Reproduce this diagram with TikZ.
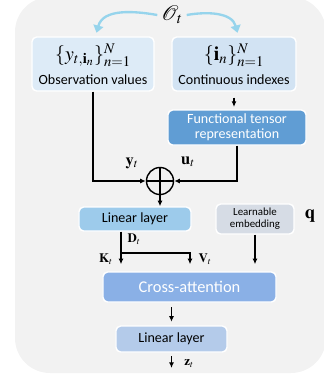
\documentclass[tikz,border=0pt]{standalone}
\usepackage{amsmath,amssymb}
\usepackage{mathptmx}
\usepackage{fontspec}
\setmainfont{Carlito}
\usetikzlibrary{arrows.meta}

\definecolor{bgGray}{RGB}{242,242,242}
\definecolor{obsBlue}{RGB}{221,235,247}
\definecolor{idxBlue}{RGB}{210,227,243}
\definecolor{funcBlue}{RGB}{96,157,212}
\definecolor{linBlue}{RGB}{157,203,235}
\definecolor{embGray}{RGB}{214,220,229}
\definecolor{crossBlue}{RGB}{138,176,230}
\definecolor{linTwoBlue}{RGB}{180,203,234}
\definecolor{arcCyan}{RGB}{150,212,236}

\newcommand{\fsz}[1]{\fontsize{#1}{#1}\selectfont}

\begin{document}
\begin{tikzpicture}[x=0.03cm, y=-0.03cm, >={Latex[length=1.7mm, width=1.5mm]},
	every node/.style={font=\fsz{12}},
	box/.style={draw=white, line width=1.2pt, rounded corners=4pt, inner sep=0pt, align=center},
	flow/.style={->, line width=1.2pt},
	arc/.style={-{Triangle[length=2.2mm, width=3mm]}, arcCyan, line width=2pt}]
	\useasboundingbox (0,0) rectangle (323,381);
	\fill[bgGray, rounded corners=1.05cm] (15,-3) rectangle (326,373);

	\node[box, fill=obsBlue, minimum width=3.66cm, minimum height=1.62cm] (obs) at (93,64)
		{{\fsz{17}$\{y_{t,\mathbf{i}_n}\}_{n=1}^{N}$}\\[6pt] Observation values};
	\node[box, fill=idxBlue, minimum width=3.72cm, minimum height=1.62cm] (idx) at (234,64)
		{{\fsz{17}$\{\mathbf{i}_n\}_{n=1}^{N}$}\\[6pt] Continuous indexes};
	\node[box, fill=funcBlue, text=white, minimum width=4.14cm, minimum height=1.05cm] (func) at (237,127.5)
		{Functional tensor\\[1pt] representation};
	\node[draw, circle, line width=1.2pt, minimum size=0.81cm, inner sep=0pt] (plus) at (160,181) {};
	\draw[line width=1.2pt] (plus.north) -- (plus.south);
	\draw[line width=1.2pt] (plus.west) -- (plus.east);
	\node[box, fill=linBlue, minimum width=3.36cm, minimum height=0.72cm] (lin1) at (135,219) {Linear layer};
	\node[box, fill=embGray, minimum width=2.34cm, minimum height=0.9cm, font=\fsz{9.3}] (emb) at (255,219)
		{Learnable\\[1pt] embedding};
	\node[box, fill=crossBlue, text=white, minimum width=5.19cm, minimum height=0.9cm, font=\fsz{14}] (cross) at (189.5,287)
		{Cross-attention};
	\node[box, fill=linTwoBlue, minimum width=3.33cm, minimum height=0.78cm] (lin2) at (171.5,339) {Linear layer};

	% labels
	\node[font=\fsz{18}] (olab) at (172,15) {$\mathcal{O}_t$};
	\node[font=\fsz{14}] (ylab) at (132,163) {$\mathbf{y}_t$};
	\node[font=\fsz{14}] (ulab) at (188,162) {$\mathbf{u}_t$};
	\node[font=\fsz{16}] (qlab) at (310,216) {$\mathbf{q}$};
	\node[font=\fsz{11}] (dlab) at (134,239) {$\mathbf{D}_t$};
	\node[font=\fsz{11}] (klab) at (106,259) {$\mathbf{K}_t$};
	\node[font=\fsz{11}] (vlab) at (205,259) {$\mathbf{V}_t$};
	\node[font=\fsz{11}] (zlab) at (189,364) {$\mathbf{z}_t$};

	\draw[arc] (olab.west) to[out=170, in=75] ([xshift=3pt, yshift=3pt]obs.north);
	\draw[arc] (olab.east) to[out=10, in=105] ([xshift=3pt, yshift=3pt]idx.north);

	\draw[flow, shorten <=5pt, shorten >=2pt] (idx.south) -- (idx.south |- func.north);
	\draw[flow] (obs.south) |- (plus.west);
	\draw[flow] (func.south) |- (plus.east);
	\draw[flow] (plus.south) -- (plus.south |- lin1.north);

	\coordinate (dsplit) at (121,253);
	\coordinate (vsplit) at (190,253);
	\draw[flow, shorten >=6pt] (lin1.south -| dsplit) -- (dsplit |- cross.north);
	\draw[flow, shorten >=6pt] (dsplit) -- (vsplit) -- (vsplit |- cross.north);
	\draw[flow, shorten >=6pt] (emb.south) -- (emb.south |- cross.north);
	\draw[flow, shorten <=4pt, shorten >=3pt] (cross.south -| lin2.north) -- (lin2.north);
	\coordinate (zend) at (171.5,368);
	\draw[flow, shorten <=3pt] (lin2.south) -- (zend);
\end{tikzpicture}
\end{document}
